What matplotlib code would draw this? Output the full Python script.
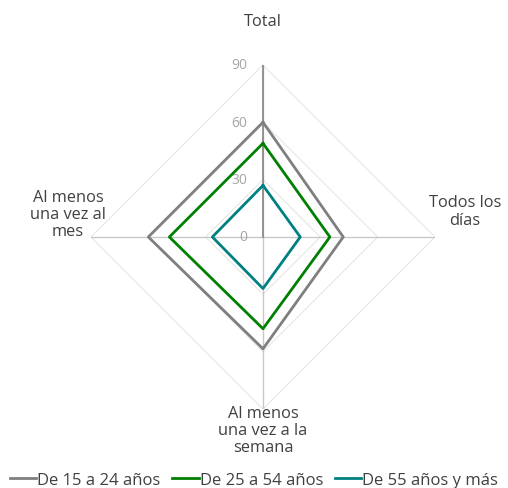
import numpy as np
import matplotlib
matplotlib.use("Agg")
import matplotlib.pyplot as plt

plt.rcParams["font.family"] = ["Open Sans", "DejaVu Sans"]

categories = ["Total", "Todos los\ndías", "Al menos\nuna vez a la\nsemana", "Al menos\nuna vez al\nmes"]
series_names = ["De 15 a 24 años", "De 25 a 54 años", "De 55 años y más"]
s_15_24 = [60, 42, 58.5, 60]
s_25_54 = [49, 35, 48, 49]
s_55_mas = [27, 19.5, 27, 26.5]
ticks = [0, 30, 60, 90]

colors = ["#7f7f7f", "#008000", "#008080"]

fig = plt.figure(figsize=(5.08, 4.89), dpi=100)
ax = fig.add_axes([0.1791, 0.1616, 0.6772, 0.7035], projection="polar")
ax.set_theta_zero_location("N")
ax.set_theta_direction(-1)
ax.set_ylim(0, 90)
ax.grid(False)
ax.spines["polar"].set_visible(False)
ax.set_xticks([])
ax.set_yticks([])
ax.patch.set_alpha(0)

n = len(categories)
theta = np.linspace(0, 2 * np.pi, n, endpoint=False)
theta_c = np.append(theta, theta[0])

# polygon gridlines
for t in ticks[1:]:
    ax.plot(theta_c, [t] * (n + 1), color="#e3e3e3", lw=0.7, zorder=1)

# spokes
for th in theta:
    ax.plot([th, th], [0, 90], color="#c8c8c8", lw=1.0, zorder=1)
ax.plot([0, 0], [0, 90], color="#8c8c8c", lw=1.3, zorder=2)

for t in ticks:
    ax.annotate(str(t), xy=(0, t), xytext=(-16, 0), textcoords="offset pixels",
                color="#a6a6a6", fontsize=10, ha="right", va="center", zorder=3)

for vals, name, c in zip([s_15_24, s_25_54, s_55_mas], series_names, colors):
    v = list(vals) + [vals[0]]
    ax.plot(theta_c, v, color=c, lw=2.0, label=name, zorder=4)

# category labels
lab = dict(ha="center", va="center", fontsize=11.8, color="#404040", linespacing=1.1)
fig.text(263 / 508, 1 - 22 / 489, categories[0], **lab)
fig.text(465 / 508, 1 - 212 / 489, categories[1], **lab)
fig.text(263 / 508, 1 - 431 / 489, categories[2], **lab)
fig.text(68 / 508, 1 - 215 / 489, categories[3], **lab)

fig.legend(loc="lower center", bbox_to_anchor=(0.5, -0.03), ncol=3, frameon=False,
           fontsize=12, handlelength=1.6, handletextpad=0.05, columnspacing=0.7,
           labelcolor="#404040")

fig.savefig("out.png", dpi=100)
